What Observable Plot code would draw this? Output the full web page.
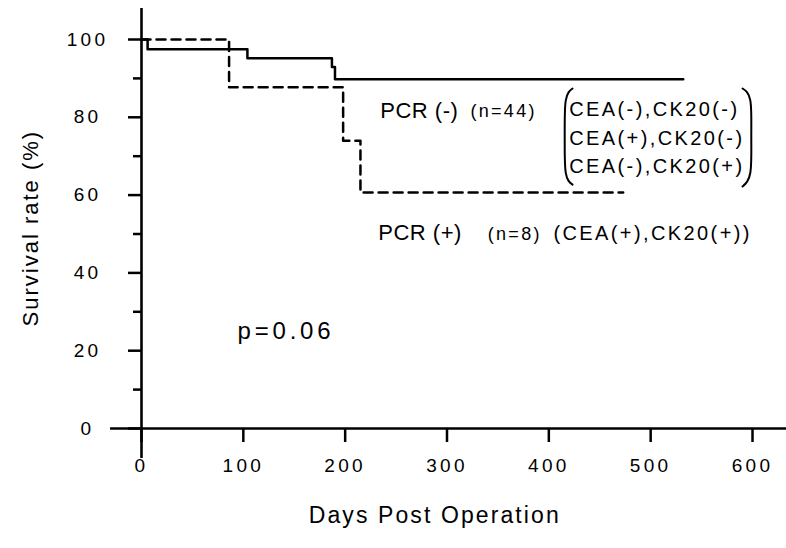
<!DOCTYPE html>
<html>
<head>
<meta charset="utf-8">
<script src="https://cdn.jsdelivr.net/npm/d3@7"></script>
<script src="https://cdn.jsdelivr.net/npm/@observablehq/plot@0.6"></script>
<style>
  html, body { margin: 0; padding: 0; background: #fff; }
  svg { font-family: "Liberation Sans", Arial, Helvetica, sans-serif; }
</style>
</head>
<body>
<div id="chart"></div>
<script>
// ---- data ----
const pcrNegDays = [0, 6, 104, 187, 190, 532];
const pcrNegSurv = [100, 97.5, 95.2, 92.9, 89.8, 89.8];
const pcrPosDays = [0, 86, 198, 215, 473];
const pcrPosSurv = [100, 87.7, 74.0, 60.7, 60.7];

const xTicks = [0, 100, 200, 300, 400, 500, 600];
const yMajorTicks = [0, 20, 40, 60, 80, 100];
const yMinorTicks = [10, 30, 50, 70, 90];

const xTitle = "Days Post Operation";
const yTitle = "Survival rate (%)";

const negGroupText = ["PCR (-)", "(n=44)"];
const negMarkerLines = ["CEA(-),CK20(-)", "CEA(+),CK20(-)", "CEA(-),CK20(+)"];
const posGroupText = ["PCR (+)", "(n=8)", "(CEA(+),CK20(+))"];
const pText = "p=0.06";

// ---- build tables ----
const neg = pcrNegDays.map((d, i) => ({day: d, surv: pcrNegSurv[i]}));
const pos = pcrPosDays.map((d, i) => ({day: d, surv: pcrPosSurv[i]}));

// annotation anchors (data units: days, %)
const bigLabels = [
  {x: 234.5, y: 81.7, t: negGroupText[0]},
  {x: 232.5, y: 50.2, t: posGroupText[0]}
];
const smallLabels = [
  {x: 323, y: 81.5, t: negGroupText[1]},
  {x: 340, y: 50.0, t: posGroupText[1]}
];
const markerLabels = [
  {x: 420, y: 82.0, t: negMarkerLines[0]},
  {x: 420, y: 74.6, t: negMarkerLines[1]},
  {x: 420, y: 67.4, t: negMarkerLines[2]},
  {x: 404.5, y: 50.0, t: posGroupText[2]}
];
const brackets = [
  {id: "L", x: 423.3, y: 87.4}, {id: "L", x: 416.6, y: 84.3}, {id: "L", x: 415.6, y: 75.1},
  {id: "L", x: 416.6, y: 65.8}, {id: "L", x: 423.3, y: 62.7},
  {id: "R", x: 590.2, y: 87.4}, {id: "R", x: 597.9, y: 84.3}, {id: "R", x: 598.8, y: 75.1},
  {id: "R", x: 597.9, y: 65.8}, {id: "R", x: 590.2, y: 62.2}
];

const chart = Plot.plot({
  width: 786,
  height: 548,
  marginLeft: 141,
  marginRight: 34,
  marginTop: 39,
  marginBottom: 120,
  x: {domain: [0, 600]},
  y: {domain: [0, 100]},
  style: {fontFamily: "'Liberation Sans', Arial, Helvetica, sans-serif", color: "#000", background: "#fff"},
  marks: [
    Plot.axisY({ticks: yMajorTicks, tickSize: 13, tickPadding: 41, textAnchor: "middle",
      fontSize: 19, strokeWidth: 2.5, label: null}),
    Plot.axisY({ticks: yMinorTicks, tickSize: 8, tickFormat: () => "", strokeWidth: 2.5, label: null}),
    Plot.axisX({ticks: xTicks, tickSize: 14, tickPadding: 16, fontSize: 19, strokeWidth: 2.5,
      label: null}),
    Plot.ruleX([0], {y1: -7.7, y2: 108, strokeWidth: 2.6, stroke: "#000"}),
    Plot.ruleY([0], {x1: -30.4, x2: 634, strokeWidth: 2.6, stroke: "#000"}),
    Plot.line(neg, {x: "day", y: "surv", curve: "step-after", stroke: "#000", strokeWidth: 2.5}),
    Plot.line(pos, {x: "day", y: "surv", curve: "step-after", stroke: "#000", strokeWidth: 2.5,
      strokeDasharray: "9,6"}),
    Plot.line(brackets, {x: "x", y: "y", z: "id", curve: "natural", stroke: "#000", strokeWidth: 2}),
    Plot.text(bigLabels, {x: "x", y: "y", text: "t", textAnchor: "start", lineAnchor: "middle",
      fontSize: 22}),
    Plot.text(smallLabels, {x: "x", y: "y", text: "t", textAnchor: "start", lineAnchor: "middle",
      fontSize: 18}),
    Plot.text(markerLabels, {x: "x", y: "y", text: "t", textAnchor: "start", lineAnchor: "middle",
      fontSize: 20}),
    Plot.text([pText], {x: 94.3, y: 24.9, text: d => d, textAnchor: "start", lineAnchor: "middle",
      fontSize: 24}),
    Plot.text([xTitle], {x: 288, y: -22.4, text: d => d, textAnchor: "middle", lineAnchor: "middle",
      fontSize: 23}),
    Plot.text([yTitle], {x: -109, y: 51.5, text: d => d, rotate: -90, textAnchor: "middle",
      lineAnchor: "middle", fontSize: 22})
  ]
});

document.getElementById("chart").appendChild(chart);

// letter spacing keyed by text content (the reference uses wide tracking)
const tickLabels = new Set([...xTicks, ...yMajorTicks].map(String));
const spacingFor = (s) => {
  if (tickLabels.has(s)) return 3.3;
  if (s === negGroupText[1] || s === posGroupText[1]) return 2.3;
  if (negMarkerLines.includes(s) || s === posGroupText[2]) return 2.4;
  if (s === pText) return 3.8;
  if (s === xTitle) return 2.1;
  if (s === yTitle) return 2;
  if (s === negGroupText[0] || s === posGroupText[0]) return 0.5;
  return 0;
};
d3.select(chart).selectAll("text").each(function() {
  const s = this.textContent;
  const v = spacingFor(s);
  this.setAttribute("letter-spacing", v);
  this.style.letterSpacing = v + "px";
  this.setAttribute("fill", "#000");
});
</script>
</body>
</html>
